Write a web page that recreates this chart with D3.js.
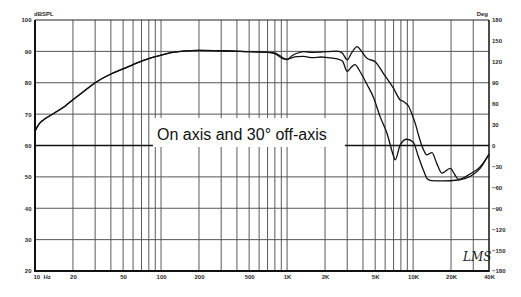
<!DOCTYPE html>
<html>
<head>
<meta charset="utf-8">
<script src="https://cdn.jsdelivr.net/npm/d3@7"></script>
<style>
  body { margin: 0; background: #fff; }
  svg { display: block; }
  .tick text { font-family: "Liberation Sans", Arial, sans-serif; font-weight: bold; font-size: 6px; fill: #2a2a2a; }
</style>
</head>
<body>
<div id="chart"></div>
<script>
var width = 521, height = 297;

// on axis response (upper curve at high frequencies)
var onAxisFreq = [10, 10.5, 11, 12, 13.5, 15, 17.5, 20, 25, 30, 40, 50, 60, 70, 80, 100, 120, 150, 200, 300, 500, 700, 800, 880, 950, 1000,
  1100, 1200, 1350, 1600, 1850, 2100, 2500, 2750, 3000, 3250, 3600, 3900, 4300, 5000, 5800, 7000, 7900, 8400, 9200,
  10000, 10500, 11000, 11600, 12300, 12800, 14100, 15400, 16900, 19700, 21500, 22900, 28300, 34000, 40000];
var onAxisDb = [64.5, 66.2, 67.3, 68.5, 69.8, 70.9, 72.7, 74.6, 77.6, 80.0, 82.8, 84.4, 85.8, 86.9, 87.7, 88.8, 89.6, 90.1, 90.3, 90.2, 89.9, 89.7, 89.5, 88.6, 87.7, 87.5,
  88.7, 89.4, 89.9, 89.7, 89.8, 89.9, 90.1, 89.4, 87.3, 89.5, 91.5, 90.0, 87.8, 86.7, 83.0, 78.2, 74.5, 74.0, 72.5,
  69.0, 66.5, 63.5, 60.5, 58.0, 57.0, 57.7, 54.3, 51.2, 52.7, 50.6, 49.2, 50.9, 53.2, 57.2];

// 30 degree off axis response
var offAxisFreq = [10, 10.5, 11, 12, 13.5, 15, 17.5, 20, 25, 30, 40, 50, 60, 70, 80, 100, 120, 150, 200, 300, 500, 700, 800, 880, 950, 1000,
  1100, 1200, 1350, 1600, 1850, 2100, 2500, 2750, 3000, 3200, 3450, 3800, 4300, 4850, 5470, 6200, 7000, 7200, 7900,
  8900, 10000, 11000, 12100, 13000, 14000, 17000, 22900, 28300, 34000, 40000];
var offAxisDb = [64.5, 66.2, 67.3, 68.5, 69.8, 70.9, 72.7, 74.6, 77.6, 80.0, 82.8, 84.4, 85.8, 86.9, 87.7, 88.8, 89.6, 90.1, 90.3, 90.2, 89.9, 89.7, 89.3, 88.2, 87.5, 87.4,
  88.0, 88.3, 88.4, 88.0, 88.2, 88.0, 87.6, 86.9, 83.6, 84.8, 85.8, 83.5, 79.5, 75.3, 69.2, 63.9, 56.6, 55.4, 60.2,
  62.0, 61.1, 56.5, 52.0, 49.3, 48.8, 48.7, 49.0, 50.1, 52.7, 57.3];

var gridFreqs = [20, 30, 40, 50, 60, 70, 80, 90, 100, 200, 300, 400, 500, 600, 700, 800, 900, 1000,
  2000, 3000, 4000, 5000, 6000, 7000, 8000, 9000, 10000, 20000, 30000];
var freqTicks = [10, 20, 50, 100, 200, 500, 1000, 2000, 5000, 10000, 20000, 40000];
var freqLabels = ["10\u00a0\u00a0Hz", "20", "50", "100", "200", "500", "1K", "2K", "5K", "10K", "20K", "40K"];
var dbTicks = [20, 30, 40, 50, 60, 70, 80, 90, 100];
var degTicks = [-180, -150, -120, -90, -60, -30, 0, 30, 60, 90, 120, 150, 180];

var svg = d3.select("#chart").append("svg")
  .attr("width", width).attr("height", height)
  .style("background-color", "white");

var x = d3.scaleLog().domain([10, 40000]).range([35, 489]);
var y = d3.scaleLinear().domain([20, 100]).range([271, 20]);
var yDeg = d3.scaleLinear().domain([-180, 180]).range([271, 20]);

// grid
svg.append("g").selectAll("line")
  .data(gridFreqs).enter().append("line")
  .attr("x1", d => x(d)).attr("x2", d => x(d))
  .attr("y1", 20).attr("y2", 271)
  .attr("stroke", "#5a5a5a").attr("stroke-width", 1);

svg.append("g").selectAll("line")
  .data(dbTicks.slice(1, -1)).enter().append("line")
  .attr("x1", 35).attr("x2", 489)
  .attr("y1", d => y(d)).attr("y2", d => y(d))
  .attr("stroke", d => d == 60 ? "#111" : "#555")
  .attr("stroke-width", d => d == 60 ? 1.5 : 1);

// frame
svg.append("line").attr("x1", 35).attr("x2", 489).attr("y1", 20).attr("y2", 20)
  .attr("stroke", "#222").attr("stroke-width", 1.2);
svg.append("line").attr("x1", 35).attr("x2", 489).attr("y1", 271).attr("y2", 271)
  .attr("stroke", "#111").attr("stroke-width", 2);
svg.append("line").attr("x1", 35).attr("x2", 35).attr("y1", 20).attr("y2", 272)
  .attr("stroke", "#111").attr("stroke-width", 2);
svg.append("line").attr("x1", 489).attr("x2", 489).attr("y1", 20).attr("y2", 272)
  .attr("stroke", "#111").attr("stroke-width", 1.5);

// axes
svg.append("g").attr("transform", "translate(0,271)")
  .call(d3.axisBottom(x).tickValues(freqTicks).tickSize(0).tickPadding(4)
    .tickFormat((d, i) => freqLabels[i]))
  .call(g => g.select(".domain").remove())
  .call(g => g.selectAll(".tick text").filter(d => d == 10).attr("text-anchor", "start").attr("x", -2));

svg.append("g").attr("transform", "translate(35,0)")
  .call(d3.axisLeft(y).tickValues(dbTicks).tickSize(0).tickPadding(3.5))
  .call(g => g.select(".domain").remove());

svg.append("g").attr("transform", "translate(489,0)")
  .call(d3.axisRight(yDeg).tickValues(degTicks).tickSize(0).tickPadding(3))
  .call(g => g.select(".domain").remove());

svg.append("text").attr("x", 34).attr("y", 16)
  .style("font-family", "Liberation Sans, Arial, sans-serif").style("font-weight", "bold")
  .style("font-size", "6px").attr("fill", "#2a2a2a").text("dBSPL");
svg.append("text").attr("x", 488).attr("y", 16).attr("text-anchor", "end")
  .style("font-family", "Liberation Sans, Arial, sans-serif").style("font-weight", "bold")
  .style("font-size", "6px").attr("fill", "#2a2a2a").text("Deg");

// curves
var line = d3.line()
  .x(d => x(d[0])).y(d => y(d[1]))
  .curve(d3.curveMonotoneX);

svg.append("path")
  .datum(onAxisFreq.map((f, i) => [f, onAxisDb[i]]))
  .attr("d", line).attr("fill", "none")
  .attr("stroke", "#111").attr("stroke-width", 1.3);

svg.append("path")
  .datum(offAxisFreq.map((f, i) => [f, offAxisDb[i]]))
  .attr("d", line).attr("fill", "none")
  .attr("stroke", "#111").attr("stroke-width", 1.3);

// label box
svg.append("rect").attr("x", 153).attr("y", 118).attr("width", 192).attr("height", 29)
  .attr("fill", "white");
svg.append("text").attr("x", 157).attr("y", 140)
  .style("font-family", "Liberation Sans, Arial, sans-serif")
  .style("font-size", "16px").attr("fill", "#111")
  .text("On axis and 30° off-axis");

// signature
svg.append("text").attr("x", 463).attr("y", 261)
  .style("font-family", "DejaVu Serif, serif").style("font-style", "italic")
  .style("font-size", "12px").attr("fill", "#222")
  .text("LMS");
</script>
</body>
</html>
